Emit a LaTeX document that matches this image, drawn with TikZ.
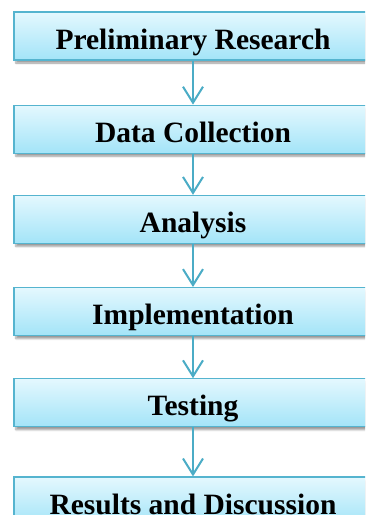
\documentclass[tikz,border=0pt]{standalone}
\usepackage{fontspec}
\setmainfont{Liberation Serif}
\usetikzlibrary{positioning,arrows.meta,shadows.blur}

\definecolor{stagetop}{HTML}{E4F8FE}
\definecolor{stagebot}{HTML}{A3E4F8}
\definecolor{stageedge}{HTML}{55B4CF}
\definecolor{flowline}{HTML}{4BACC6}

\tikzset{
    stagebox/.style={draw=stageedge, line width=1.2pt, top color=stagetop, bottom color=stagebot,
        minimum width=358pt, minimum height=48pt, inner sep=0pt,
        text height=26pt, text depth=0pt,
        font=\fontsize{29.5}{31}\selectfont\bfseries,
        blur shadow={shadow xshift=2pt, shadow yshift=-3pt, shadow blur steps=6, shadow opacity=40}},
    flow/.style={->, draw=flowline, line width=2pt}
}

\begin{document}
\begin{tikzpicture}[>={Straight Barb[length=16pt, width=20pt, line width=2pt]}]
    \useasboundingbox (0,0) rectangle (365pt,-515pt);
    \clip (0,0) rectangle (365pt,-515pt);

    % stages
    \node[stagebox] (prelim) at (193pt,-36pt) {Preliminary Research};
    \node[stagebox, below=44pt of prelim] (collect) {Data Collection};
    \node[stagebox, below=41pt of collect] (analysis) {Analysis};
    \node[stagebox, below=43pt of analysis] (implement) {Implementation};
    \node[stagebox, below=42pt of implement] (testing) {Testing};
    \node[stagebox, below=49pt of testing] (results) {Results and Discussion};

    % arrows
    \draw[flow] (prelim) -- (collect);
    \draw[flow] (collect) -- (analysis);
    \draw[flow] (analysis) -- (implement);
    \draw[flow] (implement) -- (testing);
    \draw[flow] (testing) -- (results);
\end{tikzpicture}
\end{document}
